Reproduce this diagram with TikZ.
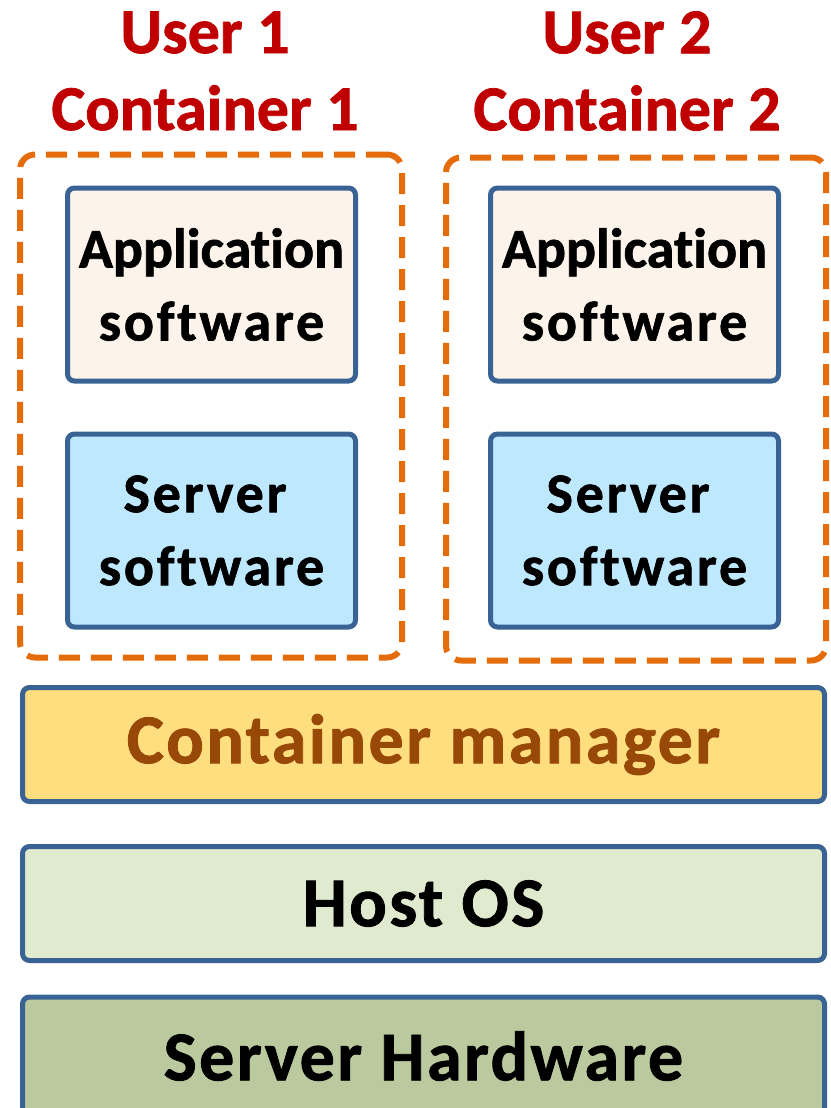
\documentclass[tikz,border=0pt]{standalone}
\usepackage{fontspec}
\setmainfont{Carlito}[Ligatures=CommonOff, BoldFeatures={FakeBold=1.2}]
\usepackage{tikz}
\usepackage{xcolor}
\definecolor{edgeblue}{HTML}{3A6395}
\definecolor{boxorange}{HTML}{E46C0A}
\definecolor{titlered}{HTML}{C00000}
\definecolor{appfill}{HTML}{FCF3EA}
\definecolor{srvfill}{HTML}{BDE8FE}
\definecolor{mgrfill}{HTML}{FEDE7F}
\definecolor{mgrtext}{HTML}{984807}
\definecolor{osfill}{HTML}{E0EACE}
\definecolor{hwfill}{HTML}{BACA9E}
\tikzstyle{soft box}=[
    draw = edgeblue,
    line width = 5pt,
    rounded corners = 7pt,
    minimum width = 288pt,
    minimum height = 193pt,
    align = center,
    font = \fontsize{56}{73}\selectfont\bfseries\addfontfeatures{LetterSpace=5}
]
\tikzstyle{layer}=[
    draw = edgeblue,
    line width = 5pt,
    rounded corners = 7pt,
    minimum width = 802pt,
    minimum height = 114pt,
    font = \fontsize{70}{80}\selectfont\bfseries\addfontfeatures{LetterSpace=3.5}
]

\begin{document}
\begin{tikzpicture}[x=1pt, y=-1pt,
    cont/.style = {draw = boxorange, line width = 6pt, dash pattern = on 21pt off 11pt, rounded corners = 15pt},
    title/.style = {text = titlered, align = center, font = \fontsize{64}{77}\selectfont\bfseries}]
        \useasboundingbox (0,0) rectangle (830,1108);

        \node[title] (u1) at (205,71) {User 1\\Container 1};
        \node[title] (u2) at (627,71) {User 2\\Container 2};

        \node[cont, minimum width = 382pt, minimum height = 503pt] (c1) at (211,406) {};
        \node[cont, minimum width = 380pt, minimum height = 503pt] (c2) at (636,409) {};

        % the first line is set a little tighter
        \node[soft box, fill = appfill] (app1) at (211.5,284.5) {{\addfontfeatures{LetterSpace=0}Application}\\software};
        \node[soft box, fill = srvfill] (srv1) at (211.5,530.5) {Server\kern0.23em\\software};
        \node[soft box, fill = appfill] (app2) at (634.5,284.5) {{\addfontfeatures{LetterSpace=0}Application}\\software};
        \node[soft box, fill = srvfill] (srv2) at (634.5,530.5) {Server\kern0.23em\\software};

        \node[layer, fill = mgrfill, text = mgrtext] (mgr) at (423.5,744.5) {Container manager};
        \node[layer, fill = osfill] (os) at (423.5,903.5) {Host OS};
        \node[layer, fill = hwfill, minimum height = 118pt] (hw) at (423.5,1056) {Server Hardware};

    \end{tikzpicture}
\end{document}
